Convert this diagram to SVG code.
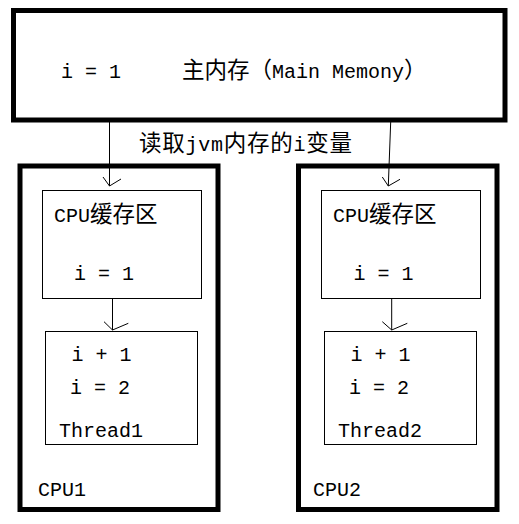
<svg xmlns="http://www.w3.org/2000/svg" width="519" height="524" viewBox="0 0 519 524">
<style>
.thick{fill:#fff;stroke:#000;stroke-width:5}
.thin{fill:#fff;stroke:#000;stroke-width:1}
.ln{fill:none;stroke:#000;stroke-width:1}
.t{font-family:"Liberation Mono","Noto Sans CJK SC",monospace;font-size:20px;fill:#000}
.c{font-family:"Noto Sans CJK SC",sans-serif;font-size:22.5px}
</style>
<rect x="0" y="0" width="519" height="524" fill="#fff"/>
<g id="main-memory">
<rect class="thick" x="13.5" y="10.5" width="491.5" height="109.5"/>
<text class="t" x="61" y="78">i = 1</text>
<text class="t" x="182" y="78"><tspan class="c">主内存（</tspan>Main Memony<tspan class="c">）</tspan></text>
</g>
<g id="cpu1">
<rect class="thick" x="20" y="166" width="198" height="343.5"/>
<text class="t" x="38" y="496">CPU1</text>
</g>
<g id="cpu2">
<rect class="thick" x="298.5" y="166" width="198.5" height="343.5"/>
<text class="t" x="313" y="496">CPU2</text>
</g>
<g id="cache1">
<rect class="thin" x="42.5" y="190.5" width="159" height="108"/>
<text class="t" x="54" y="222">CPU<tspan class="c">缓存区</tspan></text>
<text class="t" x="74" y="280">i = 1</text>
</g>
<g id="cache2">
<rect class="thin" x="321.5" y="190.5" width="159" height="108"/>
<text class="t" x="333" y="222">CPU<tspan class="c">缓存区</tspan></text>
<text class="t" x="353.5" y="280">i = 1</text>
</g>
<g id="thread1">
<rect class="thin" x="45.5" y="331.5" width="152" height="113"/>
<text class="t" x="71.5" y="361">i + 1</text>
<text class="t" x="70" y="394">i = 2</text>
<text class="t" x="59" y="437">Thread1</text>
</g>
<g id="thread2">
<rect class="thin" x="324.5" y="331.5" width="152" height="113"/>
<text class="t" x="350.5" y="361">i + 1</text>
<text class="t" x="349" y="394">i = 2</text>
<text class="t" x="338" y="437">Thread2</text>
</g>
<g id="connectors">
<line class="ln" x1="109.5" y1="122" x2="109.5" y2="186"/>
<polyline class="ln" points="103,177 109.5,186 121,179"/>
<line class="ln" x1="390.7" y1="122" x2="388.3" y2="186"/>
<polyline class="ln" points="382.3,177 388.3,186 400,179.3"/>
<line class="ln" x1="112.5" y1="298.5" x2="112.5" y2="330"/>
<polyline class="ln" points="104,321.7 112.5,330 128.3,323.3"/>
<line class="ln" x1="391.7" y1="298.5" x2="391.7" y2="330"/>
<polyline class="ln" points="382.3,321.7 391.7,330 407.3,323.3"/>
<text class="t" x="139" y="151" textLength="213" lengthAdjust="spacing"><tspan class="c">读取</tspan>jvm<tspan class="c">内存的</tspan>i<tspan class="c">变量</tspan></text>
</g>
</svg>
